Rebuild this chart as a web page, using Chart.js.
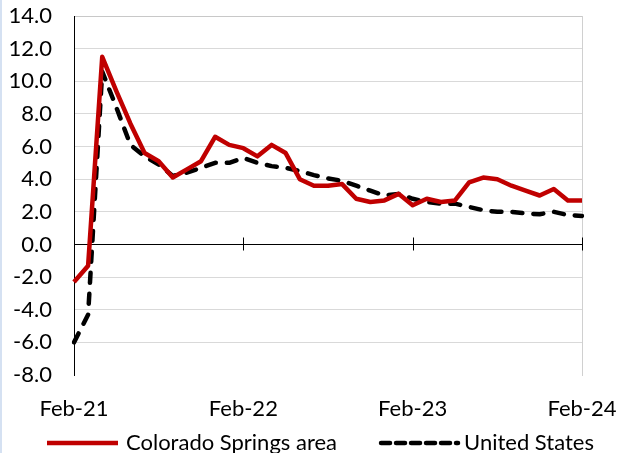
<!DOCTYPE html>
<html>
<head>
<meta charset="utf-8">
<script src="https://cdn.jsdelivr.net/npm/chart.js@4.4.1/dist/chart.umd.min.js"></script>
<style>
  html, body { margin: 0; padding: 0; background: #fff; }
  #wrap { position: relative; width: 617px; height: 453px; }
  #wrap .edge { position: absolute; left: 0; top: 0; width: 2px; height: 100%; background: #d5e1f2; }
</style>
</head>
<body>
<div id="wrap">
  <canvas id="chart"></canvas>
  <div class="edge"></div>
</div>
<script>
// monthly categories, Feb-21 .. Feb-24
const categories = [
  'Feb-21','Mar-21','Apr-21','May-21','Jun-21','Jul-21','Aug-21','Sep-21','Oct-21','Nov-21','Dec-21','Jan-22',
  'Feb-22','Mar-22','Apr-22','May-22','Jun-22','Jul-22','Aug-22','Sep-22','Oct-22','Nov-22','Dec-22','Jan-23',
  'Feb-23','Mar-23','Apr-23','May-23','Jun-23','Jul-23','Aug-23','Sep-23','Oct-23','Nov-23','Dec-23','Jan-24',
  'Feb-24'
];
const tickLabels = ['Feb-21', 'Feb-22', 'Feb-23', 'Feb-24'];

const coloradoSprings = [
  -2.3, -1.3, 11.5, 9.4, 7.4, 5.6, 5.1, 4.1, 4.6, 5.1, 6.6, 6.1,
  5.9, 5.4, 6.1, 5.6, 4.0, 3.6, 3.6, 3.7, 2.8, 2.6, 2.7, 3.1,
  2.4, 2.8, 2.6, 2.7, 3.8, 4.1, 4.0, 3.6, 3.3, 3.0, 3.4, 2.7,
  2.7
];
const unitedStates = [
  -6.0, -4.3, 10.6, 8.4, 6.1, 5.4, 4.9, 4.2, 4.4, 4.7, 5.0, 5.0,
  5.3, 5.0, 4.8, 4.7, 4.5, 4.25, 4.05, 3.9, 3.6, 3.3, 3.0, 3.1,
  2.8, 2.6, 2.5, 2.5, 2.3, 2.1, 2.0, 2.0, 1.9, 1.85, 2.0, 1.8,
  1.75
];

const yMin = -8, yMax = 14, yStep = 2;

const FONT = 'Lato, "Open Sans", sans-serif';
Chart.defaults.font.family = FONT;
Chart.defaults.font.size = 22;
Chart.defaults.color = '#000';

// black axis line at y = 0 with tick marks crossing it
const zeroAxis = {
  id: 'zeroAxis',
  beforeDatasetsDraw(chart) {
    const {ctx, scales: {x, y}} = chart;
    const y0 = Math.round(y.getPixelForValue(0)) + 0.5;
    ctx.save();
    ctx.strokeStyle = '#000';
    ctx.lineWidth = 1;
    ctx.beginPath();
    ctx.moveTo(chart.chartArea.left, y0);
    ctx.lineTo(chart.chartArea.right, y0);
    categories.forEach((c, i) => {
      if (!tickLabels.includes(c) || i === 0) return;
      const px = Math.round(x.getPixelForValue(i)) + 0.5;
      ctx.moveTo(px, y0 - 7);
      ctx.lineTo(px, y0 + 6);
    });
    ctx.stroke();
    ctx.restore();
  }
};

// legend row under the axis labels: line sample + series name
const bottomLegend = {
  id: 'bottomLegend',
  afterDraw(chart) {
    const ctx = chart.ctx;
    const cy = 443;
    let cx = 47;
    ctx.save();
    ctx.font = '22px ' + FONT;
    ctx.textBaseline = 'middle';
    ctx.textAlign = 'left';
    chart.data.datasets.forEach((ds, i) => {
      const sample = i === 0 ? 71 : 77;
      ctx.strokeStyle = ds.borderColor;
      ctx.lineWidth = ds.borderWidth;
      ctx.lineCap = ds.borderCapStyle || 'butt';
      ctx.setLineDash(ds.borderDash ? [9, 6] : []);
      ctx.beginPath();
      ctx.moveTo(cx, cy);
      ctx.lineTo(cx + sample, cy);
      ctx.stroke();
      ctx.setLineDash([]);
      cx += sample + (i === 0 ? 8 : 6);
      ctx.fillStyle = '#000';
      ctx.fillText(ds.label, cx, cy);
      cx += ctx.measureText(ds.label).width + 44;
    });
    ctx.restore();
  }
};

new Chart(document.getElementById('chart'), {
  type: 'line',
  data: {
    labels: categories,
    datasets: [
      {
        label: 'Colorado Springs area',
        data: coloradoSprings,
        borderColor: '#c00000',
        backgroundColor: '#c00000',
        borderWidth: 4.5,
        borderJoinStyle: 'round',
        pointRadius: 0,
        tension: 0
      },
      {
        label: 'United States',
        data: unitedStates,
        borderColor: '#000',
        backgroundColor: '#000',
        borderWidth: 4.5,
        borderDash: [10, 11],
        borderCapStyle: 'round',
        borderJoinStyle: 'round',
        pointRadius: 0,
        tension: 0
      }
    ]
  },
  options: {
    responsive: true,
    maintainAspectRatio: false,
    animation: false,
    layout: { padding: { top: 16, right: 0, bottom: 0, left: 0 } },
    plugins: {
      tooltip: { enabled: false },
      legend: { display: false }
    },
    scales: {
      x: {
        type: 'category',
        offset: false,
        // tick marks kept invisible; their length spaces the labels below the plot
        grid: { display: true, drawOnChartArea: false, drawTicks: true, tickLength: 21, tickColor: 'rgba(0,0,0,0)' },
        border: { display: false },
        ticks: {
          autoSkip: false,
          maxRotation: 0,
          minRotation: 0,
          padding: 0,
          callback: function(v, i) {
            const c = categories[i];
            return tickLabels.includes(c) ? c : '';
          }
        },
        afterFit: s => { s.height = 78; }
      },
      y: {
        min: yMin,
        max: yMax,
        ticks: {
          stepSize: yStep,
          autoSkip: false,
          padding: 0,
          callback: v => v.toFixed(1)
        },
        grid: {
          drawTicks: true,
          tickLength: 22,
          tickColor: 'rgba(0,0,0,0)',
          lineWidth: 1,
          color: c => {
            const v = c.tick && c.tick.value;
            if (v === yMin) return 'rgba(0,0,0,0)';
            if (v === yMax) return '#c8c8c8';
            return '#d9d9d9';
          }
        },
        border: { display: true, color: '#000', width: 1 },
        afterFit: s => { s.width = 74; }
      },
      yRight: {
        position: 'right',
        min: 0,
        max: 1,
        ticks: { display: false },
        grid: { display: false, drawTicks: false },
        border: { display: true, color: '#d0d0d0', width: 1 },
        afterFit: s => { s.width = 35; }
      }
    }
  },
  plugins: [zeroAxis, bottomLegend]
});
</script>
</body>
</html>
